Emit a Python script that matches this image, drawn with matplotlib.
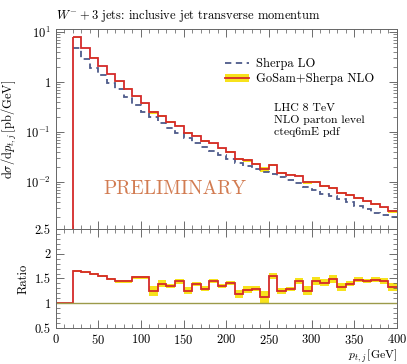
import numpy as np
import matplotlib
matplotlib.use("Agg")
import matplotlib.pyplot as plt
from matplotlib.ticker import MultipleLocator, FixedLocator, FuncFormatter, LogLocator, NullFormatter
from matplotlib.patches import Patch
from matplotlib.lines import Line2D

plt.rcParams['font.family'] = 'serif'
plt.rcParams['font.serif'] = ['cmr10', 'DejaVu Serif']
plt.rcParams['mathtext.fontset'] = 'cm'
plt.rcParams['axes.formatter.use_mathtext'] = True

# bin edges (GeV), 10 GeV bins from 20 to 400
edges = np.arange(20, 401, 10)

# NLO differential cross section [pb/GeV]
nlo = [7.9, 4.8, 3.1, 2.1, 1.45, 1.05, 0.74, 0.52, 0.38, 0.25,
       0.21, 0.16, 0.135, 0.095, 0.085, 0.066, 0.060, 0.047, 0.040, 0.029,
       0.027, 0.023, 0.018, 0.022, 0.0155, 0.0140, 0.0135, 0.0100, 0.0100, 0.0083,
       0.0077, 0.0060, 0.0055, 0.0048, 0.0041, 0.0036, 0.0031, 0.0026]

# NLO / LO ratio
ratio = [1.65, 1.64, 1.59, 1.54, 1.49, 1.44, 1.44, 1.52, 1.52, 1.25,
         1.39, 1.35, 1.44, 1.25, 1.39, 1.29, 1.45, 1.35, 1.40, 1.19,
         1.27, 1.29, 1.13, 1.55, 1.25, 1.28, 1.44, 1.25, 1.44, 1.41,
         1.49, 1.33, 1.39, 1.47, 1.45, 1.47, 1.44, 1.33]

# half width of the NLO uncertainty band in the ratio
ratio_err = [0.02, 0.02, 0.02, 0.02, 0.02, 0.03, 0.03, 0.03, 0.03, 0.10,
             0.07, 0.04, 0.05, 0.07, 0.04, 0.05, 0.04, 0.04, 0.04, 0.08,
             0.07, 0.05, 0.12, 0.07, 0.06, 0.04, 0.06, 0.09, 0.08, 0.07,
             0.08, 0.08, 0.05, 0.05, 0.04, 0.05, 0.06, 0.08]

nlo = np.array(nlo)
ratio = np.array(ratio)
ratio_err = np.array(ratio_err)
lo = nlo / ratio
rel = ratio_err / ratio

red = '#d42a2a'
yellow = '#f7e21c'
blue = '#4d5a8a'
olive = '#9c9a4a'
lw = 1.3

fig = plt.figure(figsize=(4.07, 3.64), dpi=100)
ax1 = fig.add_axes([0.1364, 0.371, 0.839, 0.549])
ax2 = fig.add_axes([0.1364, 0.099, 0.839, 0.272])

# main panel
ymin = 1.15e-3
ax1.fill_between(edges, np.append(nlo * (1 - rel), nlo[-1] * (1 - rel[-1])),
                 np.append(nlo * (1 + rel), nlo[-1] * (1 + rel[-1])),
                 step='post', color=yellow, lw=0)
ax1.stairs(lo, edges, color=blue, lw=lw, ls=(0, (3.5, 2.5)), baseline=None)
ax1.stairs(nlo, edges, color=red, lw=lw, baseline=None)
ax1.vlines(edges[0], ymin, nlo[0], color=red, lw=lw)
ax1.set_yscale('log')
ax1.set_xlim(0, 400)
ax1.set_ylim(ymin, 11.5)

def logfmt(v, pos):
    e = int(round(np.log10(v)))
    if e == 0:
        return '1'
    return r'$10^{%d}$' % e

ax1.yaxis.set_major_locator(LogLocator(base=10, numticks=10))
ax1.yaxis.set_major_formatter(FuncFormatter(logfmt))
ax1.yaxis.set_minor_locator(LogLocator(base=10, subs=np.arange(2, 10), numticks=20))
ax1.yaxis.set_minor_formatter(NullFormatter())
ax1.xaxis.set_major_locator(MultipleLocator(50))
ax1.xaxis.set_minor_locator(MultipleLocator(10))
ax1.set_xticklabels([])
ax1.set_ylabel(r'$\mathrm{d}\sigma/\mathrm{d}p_{t,j}\,[\mathrm{pb/GeV}]$', fontsize=9)

handles = [Line2D([], [], color=blue, lw=lw, ls=(0, (3.5, 2.5))),
           (Patch(color=yellow, lw=0), Line2D([], [], color=red, lw=lw))]
ax1.legend(handles, ['Sherpa LO', 'GoSam+Sherpa NLO'], loc='upper left',
           bbox_to_anchor=(0.482, 0.881), borderaxespad=0, frameon=False, fontsize=9,
           handlelength=1.9, handletextpad=0.6, labelspacing=0.25)
ax1.text(0.64, 0.63, 'LHC 8 TeV\nNLO parton level\ncteq6mE pdf',
         transform=ax1.transAxes, fontsize=8.5, va='top', linespacing=1.3)
ax1.text(0.14, 0.2, 'PRELIMINARY', transform=ax1.transAxes, fontsize=14,
         color='#d27c52', va='center')
ax1.set_title(r'$W^{-}+3$ jets: inclusive jet transverse momentum',
              loc='left', fontsize=9, pad=7)

# ratio panel
redges = np.append([0], edges)
rvals = np.append([1.0], ratio)
ax2.fill_between(edges, np.append(ratio - ratio_err, ratio[-1] - ratio_err[-1]),
                 np.append(ratio + ratio_err, ratio[-1] + ratio_err[-1]),
                 step='post', color=yellow, lw=0)
ax2.axhline(1.0, color=olive, lw=1.0)
ax2.stairs(rvals, redges, color=red, lw=lw, baseline=None)
ax2.set_xlim(0, 400)
ax2.set_ylim(0.5, 2.5)
ax2.yaxis.set_major_locator(FixedLocator([0.5, 1, 1.5, 2, 2.5]))
ax2.yaxis.set_major_formatter(FuncFormatter(lambda v, p: '%g' % v))
ax2.yaxis.set_minor_locator(MultipleLocator(0.1))
ax2.xaxis.set_major_locator(MultipleLocator(50))
ax2.xaxis.set_minor_locator(MultipleLocator(10))
ax2.set_ylabel('Ratio', fontsize=9)
ax2.set_xlabel(r'$p_{t,j}\,[\mathrm{GeV}]$', fontsize=8.5, loc='right')
ax2.xaxis.set_label_coords(1.0, -0.19)

for ax in (ax1, ax2):
    ax.tick_params(which='both', direction='in', top=True, right=True,
                   labelsize=9, colors='#555555', labelcolor='black')
    ax.tick_params(which='major', length=6, width=0.6)
    ax.tick_params(which='minor', length=3, width=0.5)
    for s in ax.spines.values():
        s.set_color('#666666')
        s.set_linewidth(0.7)

fig.savefig('out.png', dpi=100)
